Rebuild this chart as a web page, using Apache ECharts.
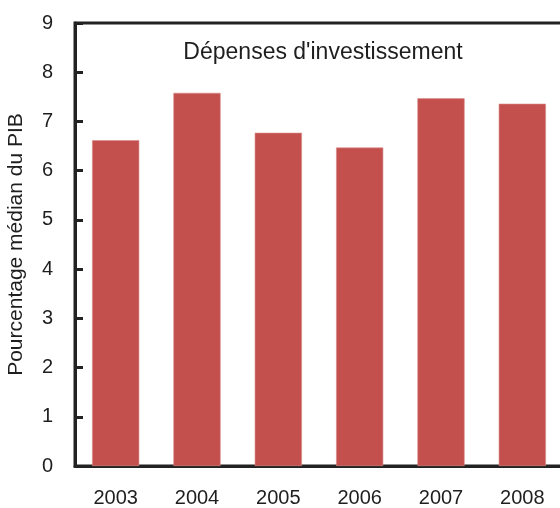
<!DOCTYPE html>
<html>
<head>
<meta charset="utf-8">
<script src="https://cdn.jsdelivr.net/npm/echarts@6/dist/echarts.min.js"></script>
<style>html,body{margin:0;padding:0;background:#fff;}#c{width:560px;height:508px;}</style>
</head>
<body>
<div id="c"></div>
<script>
const categories = ['2003', '2004', '2005', '2006', '2007', '2008'];
const values = [6.62, 7.58, 6.77, 6.47, 7.47, 7.36];
const yTicks = [0, 1, 2, 3, 4, 5, 6, 7, 8, 9];

const FONT = "'Liberation Sans', Arial, sans-serif";
const chart = echarts.init(document.getElementById('c'), null, {renderer: 'canvas'});
chart.setOption({
  animation: false,
  backgroundColor: '#fff',
  title: {
    text: "Dépenses d'investissement",
    left: 318, top: 36, textAlign: 'center',
    textStyle: {fontFamily: FONT, fontSize: 23, fontWeight: 'normal', color: '#1e1e1e'}
  },
  grid: {
    left: 75, right: -3, top: 23, bottom: 42,
    outerBoundsMode: 'none', containLabel: false,
    show: true, borderColor: '#222', borderWidth: 3, backgroundColor: 'transparent'
  },
  xAxis: {
    type: 'category',
    data: categories,
    axisLine: {lineStyle: {color: '#222', width: 3}},
    axisTick: {inside: true, length: 8, lineStyle: {color: '#222', width: 3}},
    axisLabel: {fontFamily: FONT, fontSize: 20, color: '#1e1e1e', margin: 22}
  },
  yAxis: {
    type: 'value',
    min: yTicks[0], max: yTicks[yTicks.length - 1], interval: 1,
    name: 'Pourcentage médian du PIB',
    nameLocation: 'middle', nameGap: 48,
    nameTextStyle: {fontFamily: FONT, fontSize: 21, color: '#1e1e1e'},
    axisLine: {show: true, lineStyle: {color: '#222', width: 3}},
    axisTick: {show: true, inside: true, length: 8, lineStyle: {color: '#222', width: 3}},
    axisLabel: {fontFamily: FONT, fontSize: 20, color: '#1e1e1e', margin: 22},
    splitLine: {show: false}
  },
  series: [{
    type: 'bar',
    data: values,
    barWidth: '58%',
    itemStyle: {color: '#C4504E', borderColor: '#D98A88', borderWidth: 0.6}
  }]
});
</script>
</body>
</html>
